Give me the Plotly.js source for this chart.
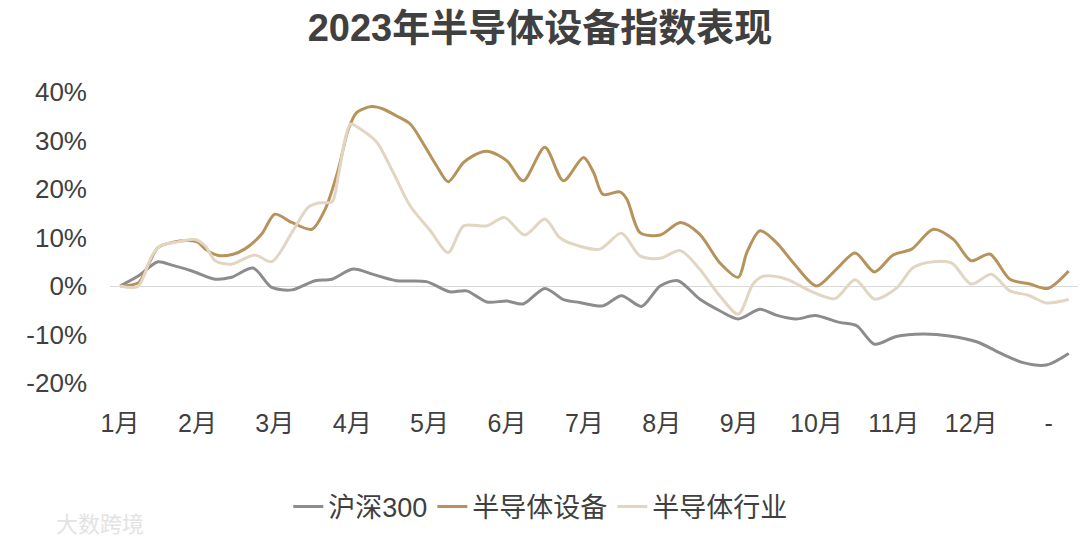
<!DOCTYPE html>
<html>
<head>
<meta charset="utf-8">
<script src="https://cdn.plot.ly/plotly-3.0.1.min.js"></script>
<style>html,body{margin:0;padding:0;background:#fff;}#chart{width:1080px;height:544px;}</style>
</head>
<body>
<div id="chart"></div>
<script>
// x positions are in months since 1 Jan (0 = 1月, 12 = next January "-")
const monthLabels = ['1月','2月','3月','4月','5月','6月','7月','8月','9月','10月','11月','12月','-'];
const monthTicks = [0,1,2,3,4,5,6,7,8,9,10,11,12];
const pctTicks = [-0.2,-0.1,0,0.1,0.2,0.3,0.4];
const pctLabels = ['-20%','-10%','0%','10%','20%','30%','40%'];

const xHS300 = [0,0.24,0.49,0.67,0.93,1.23,1.44,1.72,1.96,2.22,2.52,2.74,3.01,3.27,3.57,3.96,4.26,4.48,4.74,5.00,5.21,5.49,5.73,5.94,6.24,6.48,6.74,6.98,7.21,7.49,7.75,7.99,8.27,8.48,8.74,8.98,9.30,9.52,9.75,10.03,10.38,10.72,11.07,11.41,11.67,11.97,12.26];
const yHS300 = [0,2.1,5.0,4.3,3.1,1.4,1.8,3.7,-0.3,-0.8,1.1,1.4,3.5,2.4,1.1,0.9,-1.2,-1.0,-3.3,-3.1,-3.7,-0.5,-2.8,-3.4,-4.1,-2.0,-4.2,0.0,1.1,-2.7,-5.1,-6.8,-4.8,-6.0,-6.8,-6.1,-7.5,-8.2,-12.0,-10.4,-9.9,-10.3,-11.5,-14.1,-15.8,-16.3,-13.9];

const xEquip = [0,0.24,0.36,0.49,0.67,0.88,1.01,1.10,1.27,1.45,1.61,1.83,2.00,2.22,2.48,2.65,2.82,2.95,3.06,3.25,3.40,3.57,3.75,3.91,4.09,4.24,4.44,4.65,4.78,5.00,5.21,5.49,5.73,5.99,6.12,6.24,6.46,6.55,6.72,6.98,7.24,7.49,7.75,7.99,8.10,8.27,8.48,8.70,9.00,9.26,9.50,9.75,9.99,10.23,10.51,10.77,11.00,11.24,11.50,11.76,11.99,12.26];
const yEquip = [0,0.7,4.2,7.9,9.0,9.4,9.0,7.6,6.3,6.5,7.6,10.7,14.8,13.1,11.7,15.8,24.0,32.3,35.8,37.0,36.5,35.1,33.4,29.6,24.8,21.5,25.5,27.5,27.7,25.8,21.7,28.6,21.7,26.5,23.4,18.9,19.4,17.9,11.0,10.5,13.1,10.7,4.8,1.8,6.9,11.4,9.0,4.8,0.0,3.5,6.8,2.9,6.4,7.6,11.7,9.6,5.2,6.6,1.4,0.4,-0.5,3.1];

const xIndustry = [0,0.23,0.41,0.52,0.75,0.97,1.10,1.23,1.44,1.74,1.96,2.22,2.43,2.56,2.74,2.82,2.91,2.98,3.14,3.32,3.53,3.75,4.01,4.24,4.44,4.74,4.97,5.23,5.49,5.68,5.86,6.20,6.48,6.72,6.98,7.24,7.49,7.75,7.99,8.18,8.31,8.53,8.66,8.96,9.24,9.50,9.75,10.03,10.25,10.51,10.75,11.00,11.26,11.50,11.74,11.97,12.26];
const yIndustry = [0,-0.1,6.2,8.3,9.1,9.6,8.3,5.2,4.5,6.4,5.0,11.0,16.2,17.1,17.4,22.7,30.3,33.4,32.0,29.6,23.4,16.5,11.4,6.9,12.4,12.4,14.1,10.5,13.8,10.0,8.6,7.6,10.9,6.2,5.7,7.3,3.5,-2.0,-5.8,0.4,2.0,1.8,1.1,-1.3,-2.6,1.3,-2.7,-0.5,3.8,5.0,4.7,0.4,2.4,-1.0,-1.9,-3.5,-2.8];

const pct = a => a.map(v => v / 100);
const FONT = 'Arial, "Liberation Sans", "Noto Sans CJK SC", sans-serif';

const traces = [
  {x: xHS300, y: pct(yHS300), name: '沪深300', type: 'scatter', mode: 'lines',
   line: {color: '#8c8c8c', width: 3, shape: 'spline', smoothing: 0.8}},
  {x: xEquip, y: pct(yEquip), name: '半导体设备', type: 'scatter', mode: 'lines',
   line: {color: '#b6935b', width: 3, shape: 'spline', smoothing: 0.8}},
  {x: xIndustry, y: pct(yIndustry), name: '半导体行业', type: 'scatter', mode: 'lines',
   line: {color: '#e2d6c3', width: 3, shape: 'spline', smoothing: 0.8}}
];

const layout = {
  width: 1080, height: 544,
  paper_bgcolor: '#ffffff', plot_bgcolor: '#ffffff',
  margin: {l: 110, r: 2, t: 92, b: 161},
  font: {family: FONT, color: '#404040', size: 24},
  title: {text: '<b>2023年半导体设备指数表现</b>', x: 0.5, xref: 'container', xanchor: 'center',
          y: 0.95, yref: 'container', yanchor: 'middle',
          font: {family: FONT, size: 38, color: '#404040'}},
  xaxis: {range: [-0.13, 12.38], tickmode: 'array', tickvals: monthTicks, ticktext: monthLabels,
          showgrid: false, zeroline: false, showline: false, ticks: '', ticklabelstandoff: 23,
          tickfont: {family: FONT, size: 25, color: '#404040'}},
  yaxis: {range: [-0.2, 0.4], tickmode: 'array', tickvals: pctTicks, ticktext: pctLabels, showgrid: false,
          zeroline: true, zerolinecolor: '#d9d9d9', zerolinewidth: 1, showline: false,
          ticks: '', ticklabelstandoff: 22,
          tickfont: {family: FONT, size: 26, color: '#404040'}},
  showlegend: true,
  legend: {orientation: 'h', x: 0.445, xanchor: 'center', y: -0.426, yanchor: 'middle',
           font: {family: FONT, size: 27, color: '#404040'}, itemwidth: 30, traceorder: 'normal'},
  annotations: [
    {text: '大数跨境', xref: 'paper', yref: 'paper', x: -0.058, y: -0.485, xanchor: 'left', yanchor: 'middle',
     showarrow: false, font: {family: FONT, size: 22, color: '#e3e3e3'}}
  ]
};

Plotly.newPlot('chart', traces, layout, {displayModeBar: false, staticPlot: true});
</script>
</body>
</html>
